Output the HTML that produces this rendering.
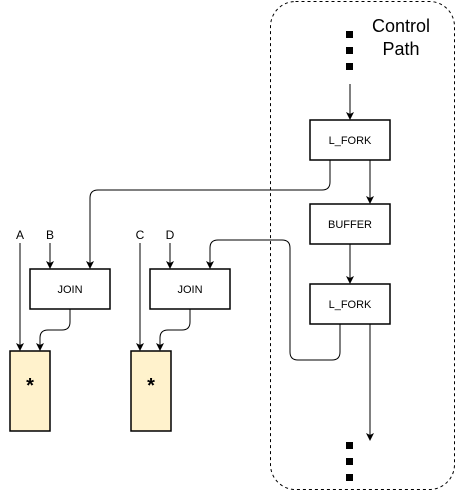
<!DOCTYPE html>
<html><head><meta charset="utf-8"><style>body{margin:0;background:#fff} text{font-family:"Liberation Sans",Arial,sans-serif}</style></head><body>
<svg width="456" height="492" xmlns="http://www.w3.org/2000/svg">
<defs><marker id="a" markerWidth="8" markerHeight="8" refX="7" refY="4" orient="auto" markerUnits="userSpaceOnUse"><path d="M0,0 L8,4 L0,8 L2,4 Z" fill="#000"/></marker></defs>
<rect x="270.5" y="1.5" width="184" height="488" rx="25" fill="none" stroke="#000" stroke-dasharray="3,3"/>
<text x="401" y="32" font-size="18" text-anchor="middle">Control</text>
<text x="401" y="55" font-size="18" text-anchor="middle">Path</text>
<g fill="#000"><rect x="346" y="31" width="7" height="7"/><rect x="346" y="47" width="7" height="7"/><rect x="346" y="63" width="7" height="7"/>
<rect x="346" y="442" width="7" height="7"/><rect x="346" y="458" width="7" height="7"/><rect x="346" y="474" width="7" height="7"/></g>
<g stroke="#000" fill="none" stroke-width="1">
<path d="M350 84 V119" marker-end="url(#a)"/>
<path d="M370 160 V203" marker-end="url(#a)"/>
<path d="M350 244 V283" marker-end="url(#a)"/>
<path d="M370 324 V440" marker-end="url(#a)"/>
<path d="M330 160 V182 Q330 190 322 190 H98 Q90 190 90 198 V268" marker-end="url(#a)"/>
<path d="M340 324 V352 Q340 360 332 360 H298 Q290 360 290 352 V248 Q290 240 282 240 H218 Q210 240 210 248 V268" marker-end="url(#a)"/>
<path d="M20 243 V350" marker-end="url(#a)"/>
<path d="M50 243 V268" marker-end="url(#a)"/>
<path d="M140 243 V350" marker-end="url(#a)"/>
<path d="M170 243 V268" marker-end="url(#a)"/>
<path d="M70 309 V322 Q70 330 62 330 H48 Q40 330 40 338 V350" marker-end="url(#a)"/>
<path d="M190 309 V322 Q190 330 182 330 H168 Q160 330 160 338 V350" marker-end="url(#a)"/>
</g>
<g stroke="#000" stroke-width="1.5" fill="#fff">
<rect x="310" y="120" width="80" height="40"/><rect x="310" y="204" width="80" height="40"/><rect x="310" y="284" width="80" height="40"/>
<rect x="30" y="269" width="80" height="40"/><rect x="150" y="269" width="80" height="40"/>
<rect x="10" y="351" width="40" height="80" fill="#fff2cc"/><rect x="131" y="351" width="40" height="80" fill="#fff2cc"/>
</g>
<g font-size="11" text-anchor="middle">
<text x="350" y="144">L_FORK</text><text x="350" y="228">BUFFER</text><text x="350" y="308">L_FORK</text>
<text x="70" y="293">JOIN</text><text x="190" y="293">JOIN</text>
<text x="20" y="239" font-size="12">A</text><text x="50" y="239" font-size="12">B</text>
<text x="140" y="239" font-size="12">C</text><text x="170" y="239" font-size="12">D</text>
<text x="30" y="392" font-size="20" font-weight="bold">*</text><text x="151" y="392" font-size="20" font-weight="bold">*</text>
</g>
</svg>
</body></html>
